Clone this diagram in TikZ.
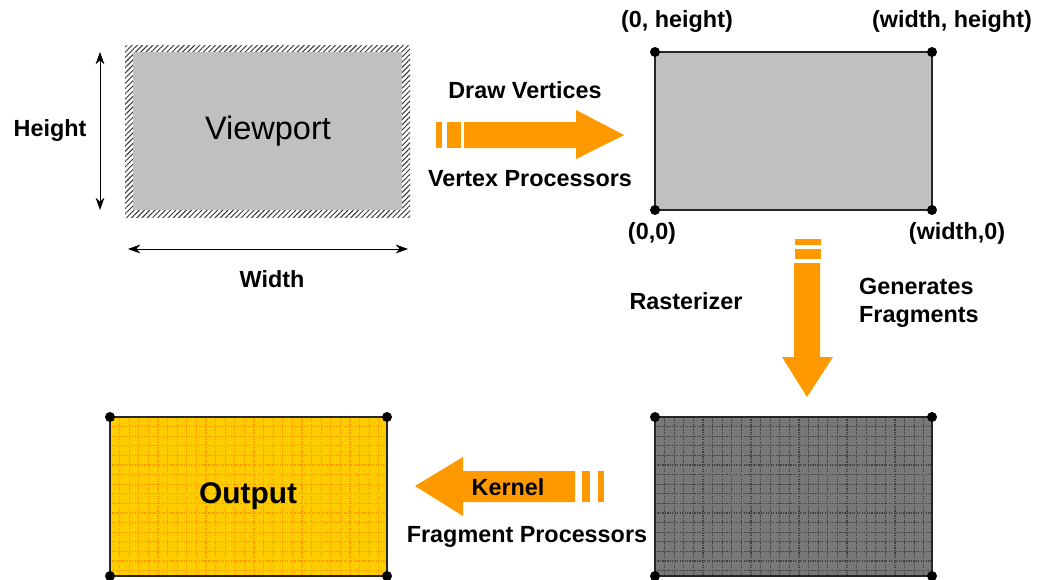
\documentclass[tikz,border=0pt]{standalone}
\usepackage{fontspec}
\setmainfont{Liberation Sans}
\usetikzlibrary{patterns.meta,arrows.meta}
\definecolor{boxgray}{HTML}{C0C0C0}
\definecolor{gridgray}{HTML}{787878}
\definecolor{arroworange}{HTML}{FF9900}
\definecolor{outyellow}{HTML}{FFCC00}
\begin{document}
\begin{tikzpicture}[x=0.02cm,y=-0.02cm,
  lbl/.style={font=\bfseries\fontsize{13.3}{16}\selectfont},
  dot/.style={circle,fill=black,inner sep=0pt,minimum size=0.2cm}]
\useasboundingbox (0,0) rectangle (1052,579);

% viewport with hatched border
\fill[pattern={Lines[angle=45,distance=2.1pt,line width=0.55pt]}, pattern color=black!80] (125,45) rectangle (410,217);
\fill[boxgray] (133,52) rectangle (402,210);
\node[font=\fontsize{18.5}{22}\selectfont] (vp) at (268,131) {Viewport};

\coordinate (ht) at (100,52);
\coordinate (hb) at (100,210);
\path[draw,{Stealth[length=7pt,width=5pt]}-{Stealth[length=7pt,width=5pt]}] (ht) -- (hb);
\node[lbl] (hgt) at (50,131) {Height};
\coordinate (wl) at (128,249);
\coordinate (wr) at (408,249);
\path[draw,{Stealth[length=7pt,width=5pt]}-{Stealth[length=7pt,width=5pt]}] (wl) -- (wr);
\node[lbl] (wdt) at (272,279) {Width};

% draw vertices arrow
\fill[arroworange] (436,122) rectangle (442,148);
\fill[arroworange] (447,122) rectangle (461,148);
\fill[arroworange] (464,122) -- (576,122) -- (576,110) -- (624,135) -- (576,159) -- (576,148) -- (464,148) -- cycle;
\node[lbl] (dv) at (525,90) {Draw Vertices};
\node[lbl] (vpr) at (530,179) {Vertex Processors};

% vertex space
\draw[fill=boxgray,line width=1pt,draw=black!85] (655,52) rectangle (932,210);
\node[dot] (c1) at (655,52) {};
\node[dot] (c2) at (932,52) {};
\node[dot] (c3) at (655,210) {};
\node[dot] (c4) at (932,210) {};
\node[lbl] (t1) at (677,22) {(0, height)};
\node[lbl] (t2) at (952,22) {(width, height)};
\node[lbl] (t3) at (652,233) {(0,0)};
\node[lbl] (t4) at (957,233) {(width,0)};

% rasterizer arrow
\fill[arroworange] (795,239) rectangle (821,245);
\fill[arroworange] (795,249) rectangle (821,259);
\fill[arroworange] (794,263) -- (820,263) -- (820,357) -- (833,357) -- (807,397) -- (782,357) -- (794,357) -- cycle;
\node[lbl] (ras) at (686,301) {Rasterizer};
\node[lbl,align=left,anchor=west] (gen) at (853,303) {Generates\\Fragments};

% fragments
\fill[gridgray] (655,417) rectangle (932,576);
\foreach \i in {1,...,28}
  \draw[black!75,line width=0.6pt,dash pattern=on 0.7pt off 0.7pt] (655+\i*9.6,417) -- (655+\i*9.6,576);
\foreach \i in {1,...,16}
  \draw[black!75,line width=0.6pt,dash pattern=on 0.7pt off 0.7pt] (655,417+\i*9.6) -- (932,417+\i*9.6);
\draw[line width=1pt,draw=black!85] (655,417) rectangle (932,576);
\node[dot] (f1) at (655,417) {};
\node[dot] (f2) at (932,417) {};
\node[dot] (f3) at (655,576) {};
\node[dot] (f4) at (932,576) {};

% kernel arrow
\fill[arroworange] (598,471) rectangle (604,502);
\fill[arroworange] (582,471) rectangle (590,502);
\fill[arroworange] (575,471) -- (463,471) -- (463,457) -- (415,486) -- (463,516) -- (463,502) -- (575,502) -- cycle;
\node[lbl] (ker) at (508,487) {Kernel};
\node[lbl] (fpr) at (527,537) {Fragment Processors};

% output
\fill[outyellow] (110,417) rectangle (387,576);
\foreach \i in {1,...,28}
  \draw[arroworange,line width=0.6pt,dash pattern=on 0.7pt off 0.7pt] (110+\i*9.6,417) -- (110+\i*9.6,576);
\foreach \i in {1,...,16}
  \draw[arroworange,line width=0.6pt,dash pattern=on 0.7pt off 0.7pt] (110,417+\i*9.6) -- (387,417+\i*9.6);
\draw[line width=1pt,draw=black!85] (110,417) rectangle (387,576);
\node[dot] (o1) at (110,417) {};
\node[dot] (o2) at (387,417) {};
\node[dot] (o3) at (110,576) {};
\node[dot] (o4) at (387,576) {};
\node[font=\bfseries\fontsize{17}{20}\selectfont] (out) at (248,496) {Output};
\end{tikzpicture}
\end{document}
